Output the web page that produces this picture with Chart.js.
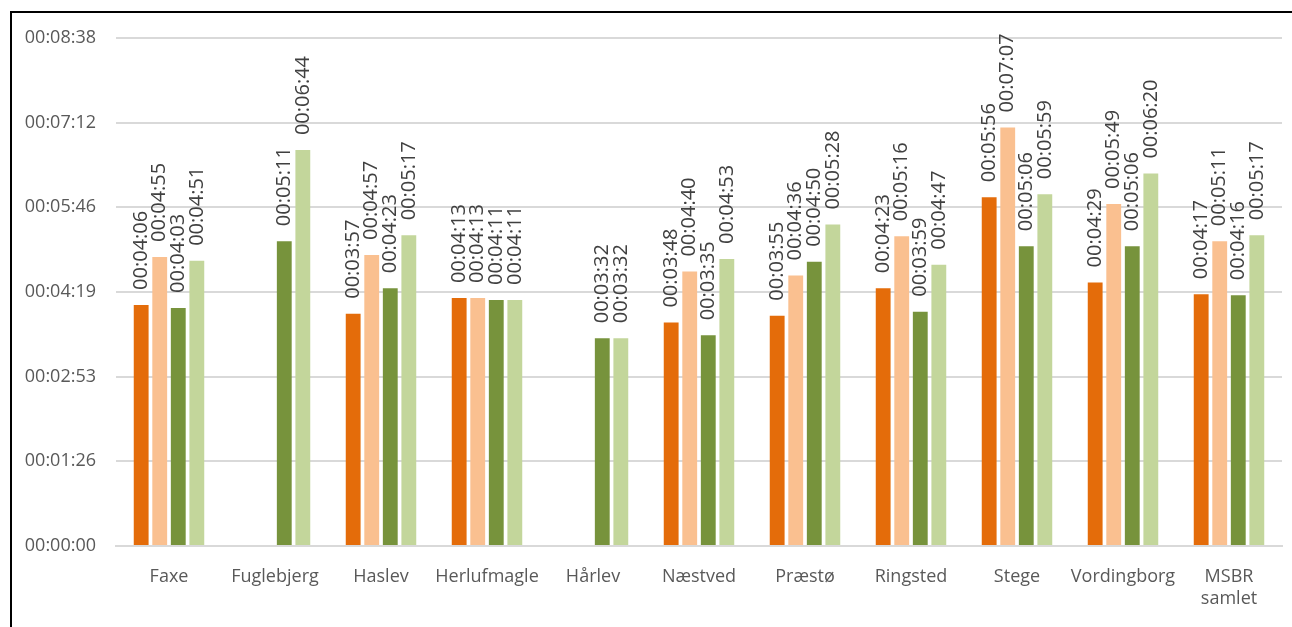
<!DOCTYPE html>
<html>
<head>
<meta charset="utf-8">
<script src="https://cdn.jsdelivr.net/npm/chart.js@4.4.1/dist/chart.umd.min.js"></script>
<style>
    html, body { margin: 0; padding: 0; background: #fff; }
    #frame {
        position: absolute;
        left: 10px;
        top: 11px;
        width: 1300px;
        height: 640px;
        border: 2px solid #000;
        box-sizing: border-box;
    }
    #wrap {
        position: absolute;
        left: 2px;
        top: 2px;
        width: 1279px;
        height: 613px;
    }
</style>
</head>
<body>
<div id="frame">
    <div id="wrap"><canvas id="chart"></canvas></div>
</div>
<script>
// Stations along the x axis
const categories = ['Faxe', 'Fuglebjerg', 'Haslev', 'Herlufmagle', 'Hårlev', 'Næstved',
    'Præstø', 'Ringsted', 'Stege', 'Vordingborg', ['MSBR', 'samlet']];

// Response times per series (hh:mm:ss), null where no bar is drawn
const seriesA = ['00:04:06', null, '00:03:57', '00:04:13', null, '00:03:48',
    '00:03:55', '00:04:23', '00:05:56', '00:04:29', '00:04:17'];
const seriesB = ['00:04:55', null, '00:04:57', '00:04:13', null, '00:04:40',
    '00:04:36', '00:05:16', '00:07:07', '00:05:49', '00:05:11'];
const seriesC = ['00:04:03', '00:05:11', '00:04:23', '00:04:11', '00:03:32', '00:03:35',
    '00:04:50', '00:03:59', '00:05:06', '00:05:06', '00:04:16'];
const seriesD = ['00:04:51', '00:06:44', '00:05:17', '00:04:11', '00:03:32', '00:04:53',
    '00:05:28', '00:04:47', '00:05:59', '00:06:20', '00:05:17'];

// Axis runs in steps of 0.001 day (86.4 s)
const yStep = 86.4;
const yMax = 518.4;

const toSeconds = (t) => {
    if (t === null) return null;
    const [h, m, s] = t.split(':').map(Number);
    return h * 3600 + m * 60 + s;
};

const formatTime = (sec) => {
    const total = Math.round(sec);
    const pad = (n) => String(n).padStart(2, '0');
    return pad(Math.floor(total / 3600)) + ':' + pad(Math.floor(total % 3600 / 60)) + ':' + pad(total % 60);
};

// Rotated value labels above each bar
const barLabels = {
    id: 'barLabels',
    afterDatasetsDraw(chart) {
        const ctx = chart.ctx;
        ctx.save();
        ctx.font = '20px "Open Sans", sans-serif';
        ctx.fillStyle = '#404040';
        ctx.textAlign = 'left';
        ctx.textBaseline = 'middle';
        chart.data.datasets.forEach((ds, i) => {
            const meta = chart.getDatasetMeta(i);
            meta.data.forEach((bar, j) => {
                const v = ds.data[j];
                if (v === null) return;
                ctx.save();
                ctx.translate(bar.x, bar.y - 15);
                ctx.rotate(-Math.PI / 2);
                ctx.fillText(formatTime(v), 0, 0);
                ctx.restore();
            });
        });
        ctx.restore();
    }
};

const makeSet = (label, values, color) => ({
    label,
    data: values.map(toSeconds),
    backgroundColor: color,
    borderWidth: 0,
    barPercentage: 0.8,
    categoryPercentage: 0.7
});

new Chart(document.getElementById('chart'), {
    type: 'bar',
    data: {
        labels: categories,
        datasets: [
            makeSet('Serie 1', seriesA, '#E46C0A'),
            makeSet('Serie 2', seriesB, '#FAC090'),
            makeSet('Serie 3', seriesC, '#77933C'),
            makeSet('Serie 4', seriesD, '#C3D69B')
        ]
    },
    options: {
        responsive: true,
        maintainAspectRatio: false,
        animation: false,
        layout: { padding: { top: 23, right: 11, bottom: 0, left: 0 } },
        plugins: {
            legend: { display: false },
            tooltip: { enabled: false }
        },
        scales: {
            x: {
                grid: { display: false },
                border: { color: '#d9d9d9', width: 2 },
                ticks: {
                    color: '#595959',
                    padding: 12,
                    maxRotation: 0,
                    autoSkip: false,
                    font: { family: '"Open Sans", sans-serif', size: 18 }
                },
                afterFit: (scale) => { scale.height = 82; }
            },
            y: {
                min: 0,
                max: yMax,
                grid: {
                    color: '#d9d9d9',
                    lineWidth: 2,
                    drawTicks: true,
                    tickLength: 20,
                    tickColor: 'rgba(0,0,0,0)'
                },
                border: { display: false },
                ticks: {
                    stepSize: yStep,
                    padding: 0,
                    color: '#595959',
                    font: { family: '"Open Sans", sans-serif', size: 18 },
                    callback: (value) => formatTime(value)
                },
                afterFit: (scale) => { scale.width = 102; }
            }
        }
    },
    plugins: [barLabels]
});
</script>
</body>
</html>
